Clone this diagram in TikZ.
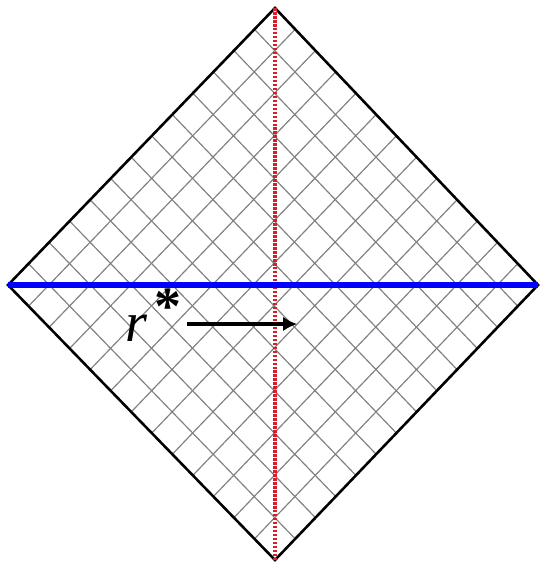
\documentclass[tikz,border=0pt]{standalone}
\usepackage{fontspec}
\setmainfont{Liberation Serif}
\usetikzlibrary{calc, arrows.meta}
\definecolor{assered}{RGB}{215,30,45}

\begin{document}
\begin{tikzpicture}[x=0.03cm, y=-0.03cm]
  \useasboundingbox (0,0) rectangle (541,568);
  % vertici
  \coordinate (L) at (8,285);
  \coordinate (T) at (275,8);
  \coordinate (R) at (538,285);
  \coordinate (B) at (275,560);

  % griglia
  \foreach \i in {1,...,12} {
    \draw[gray, line width=1pt] ($(L)!\i/13!(B)$)--($(T)!\i/13!(R)$);
    \draw[gray, line width=1pt] ($(L)!\i/13!(T)$)--($(B)!\i/13!(R)$);
  }

  % bordo
  \draw[black, line width=2.2pt] (L)--(T)--(R)--(B)--cycle;

  % asse verticale
  \draw[assered, line width=3.4pt, dash pattern=on 2.2pt off 1.2pt] (T)--(B);

  % asse orizzontale
  \draw[blue, line width=5pt] (L)--(R);

  % etichetta e freccia
  \node[font=\fontsize{48}{48}\selectfont, inner sep=0pt, anchor=base west] (rstar) at (125,341)
    {\textit{r}\hspace{0.12em}\raisebox{0.3em}{\fontsize{46}{46}\selectfont\bfseries *}};
  \coordinate (tip) at (297,324);
  \draw[black, -{Latex[length=4.2mm, width=4.4mm]}, line width=3.2pt] ($(rstar.east |- tip)+(6,0)$)--(tip);
\end{tikzpicture}
\end{document}
